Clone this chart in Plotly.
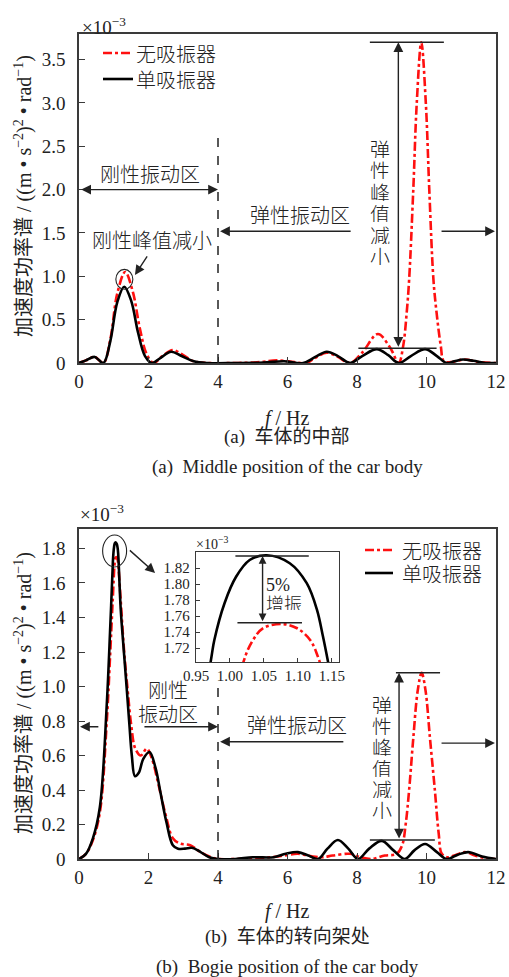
import plotly.graph_objects as go

# ---------------- data (PSD values in units of 1e-3 (m/s^2)^2/rad) ----------------
series_names = ["无吸振器", "单吸振器"]

# (a) middle of the car body
freq_mid_none = [0, 0.2, 0.45, 0.7, 0.9, 1.1, 1.33, 1.55, 1.75, 1.95, 2.15, 2.4, 2.7, 3.0, 3.3,
                 3.7, 4.5, 5.2, 5.7, 6.2, 6.55, 6.8, 7.13, 7.45, 7.8, 8.15, 8.6, 8.95, 9.2,
                 9.33, 9.43, 9.5, 9.62, 9.72, 9.85, 9.98, 10.08, 10.2, 10.29, 10.41, 10.5,
                 10.7, 11.1, 11.5, 12]
psd_mid_none = [0, 0.03, 0.07, 0.0, 0.27, 0.80, 1.05, 0.82, 0.40, 0.10, 0.0, 0.08, 0.15, 0.09, 0.02,
                0.0, 0.0, 0.01, 0.03, 0.01, 0.0, 0.06, 0.12, 0.07, 0.0, 0.12, 0.335, 0.18, 0.0,
                0.2, 0.58, 0.96, 2.0, 3.0, 3.70, 3.0, 2.0, 0.96, 0.58, 0.2, 0.02,
                0.01, 0.04, 0.01, 0.0]

freq_mid_single = [0, 0.2, 0.45, 0.7, 0.9, 1.1, 1.3, 1.5, 1.7, 1.9, 2.1, 2.35, 2.65, 2.95, 3.3,
                   3.7, 4.5, 5.3, 5.9, 6.45, 6.8, 7.13, 7.45, 7.8, 8.15, 8.57, 8.9, 9.2, 9.55,
                   9.96, 10.3, 10.58, 10.8, 11.05, 11.35, 11.7, 12]
psd_mid_single = [0, 0.03, 0.07, 0.0, 0.25, 0.70, 0.88, 0.72, 0.35, 0.08, 0.0, 0.06, 0.13, 0.08, 0.02,
                  0.0, 0.0, 0.005, 0.02, 0.0, 0.07, 0.13, 0.08, 0.0, 0.08, 0.16, 0.09, 0.0, 0.08,
                  0.16, 0.08, 0.0, 0.02, 0.04, 0.025, 0.0, 0.0]

# (b) bogie position of the car body
freq_bogie_none = [0, 0.2, 0.4, 0.6, 0.8, 0.9, 0.97, 1.02, 1.034, 1.049, 1.076, 1.098, 1.118, 1.132,
                   1.2, 1.3, 1.4, 1.5, 1.62, 1.78, 1.95, 2.1, 2.3, 2.5, 2.7, 2.9, 3.2, 3.5, 3.8,
                   4.0, 4.5, 5.0, 5.5, 5.9, 6.3, 6.7, 7.0, 7.3, 7.8, 8.1, 8.42, 8.8, 9.14, 9.3,
                   9.4, 9.5, 9.62, 9.75, 9.86, 9.97, 10.1, 10.24, 10.35, 10.44, 10.6, 10.8,
                   11.1, 11.4, 11.7, 12]
psd_bogie_none = [0, 0.03, 0.11, 0.27, 0.80, 1.20, 1.50, 1.703, 1.73, 1.745, 1.75, 1.745, 1.73, 1.703,
                  1.50, 1.20, 0.98, 0.78, 0.64, 0.60, 0.64, 0.58, 0.42, 0.25, 0.12, 0.09, 0.08, 0.04, 0.01,
                  0.0, 0.0, 0.005, 0.01, 0.02, 0.03, 0.015, 0.01, 0.02, 0.03, 0.01, 0.0, 0.02, 0.03, 0.08,
                  0.2, 0.40, 0.70, 0.98, 1.08, 0.98, 0.70, 0.40, 0.15, 0.03, 0.01, 0.02,
                  0.04, 0.02, 0.005, 0.0]

freq_bogie_single = [0, 0.2, 0.4, 0.6, 0.8, 0.9, 0.972, 0.977, 0.992, 1.009, 1.029, 1.054, 1.088,
                     1.113, 1.128, 1.137, 1.145, 1.2, 1.3, 1.38, 1.45, 1.52, 1.61, 1.72, 1.85, 2.03,
                     2.2, 2.35, 2.52, 2.7, 2.85, 3.05, 3.25, 3.5, 3.75, 4.0, 4.5, 5.0, 5.6, 5.95,
                     6.3, 6.6, 6.88, 7.15, 7.45, 7.75, 8.03, 8.35, 8.71, 9.05, 9.38, 9.65, 9.96,
                     10.3, 10.58, 10.9, 11.2, 11.6, 12]
psd_bogie_single = [0, 0.03, 0.12, 0.30, 0.90, 1.35, 1.705, 1.73, 1.776, 1.809, 1.83, 1.836, 1.826,
                    1.801, 1.768, 1.734, 1.70, 1.45, 1.18, 0.97, 0.78, 0.60, 0.48, 0.50, 0.58, 0.62,
                    0.53, 0.38, 0.21, 0.08, 0.06, 0.06, 0.065, 0.04, 0.01, 0.0, 0.0, 0.01, 0.01, 0.03,
                    0.04, 0.02, 0.0, 0.06, 0.11, 0.06, 0.0, 0.06, 0.105, 0.05, 0.0, 0.05, 0.087,
                    0.04, 0.0, 0.025, 0.04, 0.015, 0.0]

x_ticks = [0, 2, 4, 6, 8, 10, 12]
y_ticks_mid = [0, 0.5, 1.0, 1.5, 2.0, 2.5, 3.0, 3.5]
y_ticks_bogie = [0, 0.2, 0.4, 0.6, 0.8, 1.0, 1.2, 1.4, 1.6, 1.8]
inset_x_ticks = [0.95, 1.00, 1.05, 1.10, 1.15]
inset_y_ticks = [1.72, 1.74, 1.76, 1.78, 1.80, 1.82]

# ---------------- styling ----------------
W, H = 509, 977
SERIF = "Liberation Serif, 'Noto Sans CJK SC'"
CJK = "'Noto Sans CJK SC', Liberation Serif"
INK = "#222222"
AXC = "#3a3a3a"
RED = "#ff1010"
LINE_STYLES = [dict(color=RED, dash="dashdot"), dict(color="black", dash="solid")]


def px_x(p):
    return p / W


def px_y(p):
    return 1 - p / H


def fmt_tick(v, nd):
    return "0" if v == 0 else f"{v:.{nd}f}"


def cjk_font(size=20):
    return dict(family=CJK, size=size, color=INK, weight=300)


fig = go.Figure()

panels = [
    ("x", "y", freq_mid_none, psd_mid_none, freq_mid_single, psd_mid_single),
    ("x2", "y2", freq_bogie_none, psd_bogie_none, freq_bogie_single, psd_bogie_single),
    # inset: zoom on the rigid-body peak of the bogie position
    ("x3", "y3", freq_bogie_none, psd_bogie_none, freq_bogie_single, psd_bogie_single),
]
for xa, ya, fn, pn, fs, ps in panels:
    for name, fx, py, st in ((series_names[0], fn, pn, LINE_STYLES[0]),
                             (series_names[1], fs, ps, LINE_STYLES[1])):
        fig.add_trace(go.Scatter(x=fx, y=py, xaxis=xa, yaxis=ya, mode="lines", name=name,
                                 showlegend=False,
                                 line=dict(color=st["color"], dash=st["dash"], width=2.6,
                                           shape="spline", smoothing=1.0)))

axis_common = dict(showline=True, linecolor=AXC, linewidth=1.5, mirror=True, ticks="inside",
                   ticklen=6, tickwidth=1.2, tickcolor=AXC, showgrid=False, zeroline=False,
                   automargin=False, tickfont=dict(family=SERIF, size=19, color=INK))
inset_common = dict(showline=True, linecolor=AXC, linewidth=1.4, mirror=True, ticks="inside",
                    ticklen=4, tickcolor=AXC, showgrid=False, zeroline=False, automargin=False,
                    tickfont=dict(family=SERIF, size=15, color=INK))

x_dom = [px_x(79), px_x(496)]
fig.update_layout(
    template="none",
    width=W, height=H, margin=dict(l=0, r=0, t=0, b=0, pad=0, autoexpand=False),
    paper_bgcolor="white", plot_bgcolor="white", showlegend=False,
    xaxis=dict(domain=x_dom, range=[0, 12], anchor="y", tickvals=x_ticks,
               ticktext=[str(v) for v in x_ticks], ticklabelstandoff=0, **axis_common),
    yaxis=dict(domain=[px_y(363), px_y(34)], range=[0, 3.795], anchor="x", tickvals=y_ticks_mid,
               ticktext=[fmt_tick(v, 1) for v in y_ticks_mid], ticklabelstandoff=8, **axis_common),
    xaxis2=dict(domain=x_dom, range=[0, 12], anchor="y2", tickvals=x_ticks,
                ticktext=[str(v) for v in x_ticks], ticklabelstandoff=0, **axis_common),
    yaxis2=dict(domain=[px_y(859), px_y(529)], range=[0, 1.913], anchor="x2", tickvals=y_ticks_bogie,
                ticktext=[fmt_tick(v, 1) for v in y_ticks_bogie], ticklabelstandoff=8, **axis_common),
    xaxis3=dict(domain=[px_x(196), px_x(339)], range=[0.95, 1.1605], anchor="y3",
                tickvals=inset_x_ticks, ticktext=[f"{v:.2f}" for v in inset_x_ticks],
                ticklabelstandoff=0, **inset_common),
    yaxis3=dict(domain=[px_y(662), px_y(552)], range=[1.7025, 1.84], anchor="x3",
                tickvals=inset_y_ticks, ticktext=[f"{v:.2f}" for v in inset_y_ticks],
                ticklabelstandoff=2, **inset_common),
)

shapes = []
ann = []


def hline(xr, yr, x0, x1, y, width=1.6):
    shapes.append(dict(type="line", xref=xr, yref=yr, x0=x0, x1=x1, y0=y, y1=y,
                       line=dict(color=INK, width=width)))


def arrow(xr, yr, tail, head, both=False, size=1.4):
    a = dict(xref=xr, yref=yr, axref=xr, ayref=yr, x=head[0], y=head[1], ax=tail[0], ay=tail[1],
             text="", showarrow=True, arrowhead=2, arrowsize=size, arrowwidth=1.4, arrowcolor=INK)
    if both:
        a.update(arrowside="end+start", startarrowhead=2, startarrowsize=size)
    ann.append(a)


def label(xr, yr, x, y, text, font=None, xanchor="center", box_h=None):
    a = dict(xref=xr, yref=yr, x=x, y=y, text=text, showarrow=False, xanchor=xanchor,
             yanchor="middle", font=font or cjk_font())
    if box_h:
        a.update(height=box_h, valign="middle", borderpad=0)
    ann.append(a)


# ---- legends (one per panel) ----
legend_rows = [(103, 133, 135, (53, 79)), (365, 393, 401, (550, 573))]
for lx0, lx1, tx, rows in legend_rows:
    for i, yy in enumerate(rows):
        st = LINE_STYLES[i]
        shapes.append(dict(type="line", xref="paper", yref="paper", x0=px_x(lx0), x1=px_x(lx1),
                           y0=px_y(yy), y1=px_y(yy),
                           line=dict(color=st["color"], dash=st["dash"], width=2.6)))
        ann.append(dict(xref="paper", yref="paper", x=px_x(tx), y=px_y(yy), text=series_names[i],
                        showarrow=False, xanchor="left", yanchor="middle", height=20, valign="middle",
                        borderpad=0, font=cjk_font()))

# ---- panel (a) annotations ----
shapes.append(dict(type="line", xref="x", yref="y", x0=4, x1=4, y0=0, y1=2.69,
                   line=dict(color=INK, width=1.5, dash="dash")))
arrow("x", "y", (0.02, 2.0), (4.0, 2.0), both=True)
label("x", "y", 2.04, 2.19, "刚性振动区")
label("x", "y", 6.36, 1.71, "弹性振动区")
arrow("x", "y", (7.86, 1.52), (4.06, 1.52))
arrow("x", "y", (10.39, 1.52), (11.97, 1.52))
hline("x", "y", 8.37, 10.5, 3.70)
hline("x", "y", 8.04, 10.29, 0.17)
arrow("x", "y", (9.19, 0.17), (9.19, 3.70), both=True)
for i, ch in enumerate("弹性峰值减小"):
    label("x", "y", 8.66, 2.468 - 0.247 * i, ch, box_h=18)
label("x", "y", 2.1, 1.42, "刚性峰值减小")
arrow("x", "y", (1.99, 1.246), (1.61, 1.015))
shapes.append(dict(type="circle", xref="x", yref="y", x0=1.06, x1=1.55, y0=0.85, y1=1.08,
                   line=dict(color=INK, width=1.1)))

# ---- panel (b) annotations ----
shapes.append(dict(type="line", xref="x2", yref="y2", x0=4, x1=4, y0=0, y1=1.03,
                   line=dict(color=INK, width=1.5, dash="dash")))
label("x2", "y2", 2.56, 0.983, "刚性", box_h=20)
label("x2", "y2", 2.56, 0.846, "振动区", box_h=20)
arrow("x2", "y2", (0.6, 0.767), (0.03, 0.767))
arrow("x2", "y2", (1.84, 0.767), (4.0, 0.767))
label("x2", "y2", 6.27, 0.777, "弹性振动区")
arrow("x2", "y2", (7.65, 0.68), (4.06, 0.68))
arrow("x2", "y2", (10.39, 0.672), (11.97, 0.672))
hline("x2", "y2", 9.12, 10.39, 1.08)
hline("x2", "y2", 8.37, 10.24, 0.11)
arrow("x2", "y2", (9.21, 0.11), (9.21, 1.08), both=True)
for i, ch in enumerate("弹性峰值减小"):
    label("x2", "y2", 8.71, 0.893 - 0.1217 * i, ch, box_h=18)
shapes.append(dict(type="circle", xref="x2", yref="y2", x0=0.68, x1=1.37, y0=1.693, y1=1.878,
                   line=dict(color=INK, width=1.1)))
arrow("x2", "y2", (1.42, 1.797), (2.19, 1.658))

# ---- inset annotations ----
hline("x3", "y3", 1.008, 1.116, 1.835, width=1.4)
hline("x3", "y3", 1.011, 1.106, 1.7516, width=1.4)
arrow("x3", "y3", (1.048, 1.7516), (1.048, 1.835), both=True, size=1.1)
label("x3", "y3", 1.051, 1.799, "5%", font=dict(family=SERIF, size=18, color=INK),
      xanchor="left", box_h=15)
label("x3", "y3", 1.051, 1.7775, "增振", font=cjk_font(18), xanchor="left", box_h=15)

# ---- multipliers, axis titles, captions ----
for xpx, ypx, fs in ((80, 26, 19), (78, 513, 19), (194, 543, 14)):
    ann.append(dict(xref="paper", yref="paper", x=px_x(xpx), y=px_y(ypx), text="×10<sup>−3</sup>",
                    showarrow=False, xanchor="left", yanchor="middle",
                    font=dict(family=SERIF, size=fs, color=INK)))

ytitle = "加速度功率谱 / ((m • s<sup>−2</sup>)<sup>2</sup> • rad<sup>−1</sup>)"
for yc in (196, 693):
    ann.append(dict(xref="paper", yref="paper", x=px_x(23), y=px_y(yc), text=ytitle, textangle=-90,
                    showarrow=False, xanchor="center", yanchor="middle",
                    font=dict(family=SERIF, size=20, color=INK)))

for yc in (418, 911):
    ann.append(dict(xref="paper", yref="paper", x=px_x(287), y=px_y(yc), text="<i>f</i> / Hz",
                    showarrow=False, xanchor="center", yanchor="middle",
                    font=dict(family=SERIF, size=20, color=INK)))

captions = [(437, "(a)\u00a0\u00a0车体的中部"), (467, "(a)\u00a0\u00a0Middle position of the car body"),
            (937, "(b)\u00a0\u00a0车体的转向架处"), (967, "(b)\u00a0\u00a0Bogie position of the car body")]
for yc, txt in captions:
    ann.append(dict(xref="paper", yref="paper", x=px_x(287), y=px_y(yc), text=txt, showarrow=False,
                    xanchor="center", yanchor="middle", height=22, valign="middle", borderpad=0,
                    font=dict(family=SERIF, size=19, color=INK)))

fig.update_layout(shapes=shapes, annotations=ann)
fig.write_html("out.html")
